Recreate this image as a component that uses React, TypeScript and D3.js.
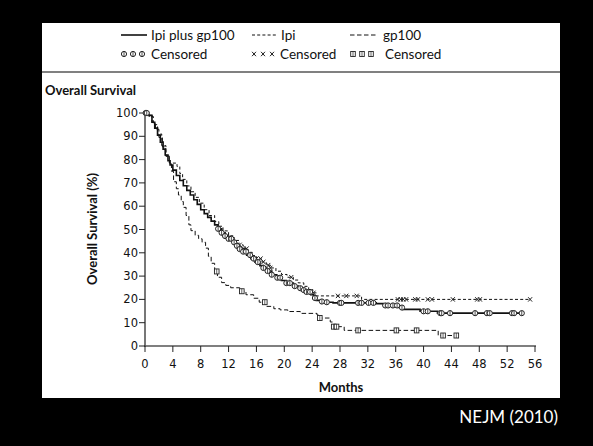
import React from 'react'
import * as d3 from 'd3'

// Kaplan-Meier steps [month, % alive]
const ipiGp100 = [
  [0, 100], [0.5, 99], [1, 96], [1.4, 93.5], [1.8, 90.5], [2.2, 87.5], [2.6, 84.5], [2.9, 82],
  [3.3, 79.5], [3.6, 77.7], [4.0, 75.5], [4.5, 73.2], [5.0, 71], [5.5, 68.8], [6.0, 66.8],
  [6.5, 64.8], [7.0, 62.8], [7.5, 60.8], [8.0, 58.5], [8.5, 56.8], [9.0, 55.2], [9.5, 53.6],
  [10, 52], [10.5, 50.3], [11, 48.6], [11.5, 47.2], [12, 46], [12.5, 44.5], [13, 43],
  [13.5, 41.6], [14, 40.5], [14.6, 39], [15.2, 37.5], [15.8, 36], [16.5, 34.5], [17, 33.5],
  [17.5, 32.2], [18.2, 30.6], [18.9, 29.3], [19.6, 28.1], [20.3, 27], [21.3, 25.7], [22, 24.8],
  [22.6, 24], [23.2, 23.2], [23.8, 22], [24.2, 20.6], [24.6, 19.6], [25.2, 19.1], [26.1, 18.8],
  [27, 18.5], [33.2, 18.2], [34.2, 17.4], [36.5, 16.5], [37, 15.7], [39.5, 14.9], [42, 14.1],
  [54.1, 14.1]
]
const ipi = [
  [0, 100], [0.6, 98.5], [1.2, 95], [1.8, 91], [2.4, 86], [3.0, 81.5], [3.5, 78.5], [4.6, 77],
  [5.0, 74], [5.4, 71.5], [6, 68.7], [6.6, 66.2], [7.2, 63.8], [7.8, 61.3], [8.5, 58.5],
  [9.2, 56], [10, 53.4], [10.6, 51.4], [11.2, 49.4], [12, 47.3], [12.8, 45.3], [13.5, 43.4],
  [14.1, 41.8], [14.8, 40.2], [15.4, 38.8], [16, 37.5], [16.7, 36.1], [17.4, 34.7], [18, 33.5],
  [18.8, 32.1], [19.6, 30.7], [20.4, 29.5], [21.3, 28.3], [22, 27.1], [22.8, 25.6], [23.5, 24.2],
  [24.1, 22.8], [24.6, 21.5], [30.9, 21.5], [31.1, 20], [55.3, 20]
]
const gp100 = [
  [0, 100], [0.5, 99], [1, 96], [1.5, 93], [2, 89.5], [2.5, 85.5], [3, 81.5], [3.5, 78.5],
  [3.8, 75], [4.1, 70.5], [4.5, 67.5], [4.8, 64.8], [5.2, 62], [5.5, 59.5], [5.9, 56],
  [6.3, 52], [6.6, 49.5], [7.2, 47.5], [7.7, 46], [8.2, 44.5], [8.7, 42], [9.1, 38.5],
  [9.5, 35.5], [10.0, 32], [10.4, 29.5], [11, 27.2], [11.6, 26], [12.3, 25], [13.6, 23.5],
  [14.5, 22], [15.6, 20.5], [16.4, 18.8], [17.3, 17], [18.5, 16], [19.4, 15.5], [20.5, 14.8],
  [22.3, 14], [24.7, 13.3], [25.1, 12], [26.6, 10.3], [27, 8.3], [28.6, 6.7], [41.9, 6.7],
  [42.1, 4.5], [44.7, 4.5]
]

// censoring times (months)
const ipiGp100Cens = [
  0.1, 0.25, 10.5, 11, 11.5, 12, 12.4, 12.8, 13.2, 13.6, 14.1, 14.5, 15.1, 15.6, 16.2, 17,
  17.6, 18.2, 19, 19.4, 20.3, 20.8, 21.5, 22.3, 22.8, 23.2, 23.7, 24.4, 25.4, 26.1, 28, 28.2,
  30.6, 31.1, 32.1, 32.8, 34.5, 34.9, 35.6, 36.2, 36.9, 40, 40.6, 42.4, 42.6, 43.8, 47.4,
  49.1, 49.5, 52.7, 53, 54.1
]
const ipiCens = [
  13.6, 14.1, 14.6, 16, 16.6, 17, 17.7, 18, 21, 24.2, 27.7, 28.9, 30.4, 36.3, 36.7, 37.1,
  37.5, 38.8, 39.2, 40.6, 41.2, 44.2, 47.7, 48.1, 55.3
]
const gp100Cens = [10.3, 13.9, 17.2, 25.1, 27.1, 27.5, 30.6, 36.1, 39, 42.8, 44.7]

const xTicks = d3.range(0, 57, 4)
const yTicks = d3.range(0, 101, 10)

const font = 'Lato, "Open Sans", sans-serif'
const tickFont = '"DejaVu Sans", sans-serif'

const x = d3.scaleLinear().domain([0, 56]).range([145, 535])
const y = d3.scaleLinear().domain([0, 100]).range([346, 113])

const line = d3
  .line<number[]>()
  .x(d => x(d[0]))
  .y(d => y(d[1]))
  .curve(d3.curveStepAfter)

const bis = d3.bisector((d: number[]) => d[0]).right
const survAt = (curve: number[][], m: number) => curve[Math.max(0, bis(curve, m) - 1)][1]

const Circ = ({ cx, cy }: { cx: number; cy: number }) => (
  <g>
    <circle cx={cx} cy={cy} r={2.6} fill='white' stroke='#222' strokeWidth={1} />
    <line x1={cx} x2={cx} y1={cy - 2.4} y2={cy + 2.4} stroke='#222' strokeWidth={0.8} />
  </g>
)
const Cross = ({ cx, cy }: { cx: number; cy: number }) => (
  <path
    d={`M${cx - 2},${cy - 2.2}L${cx + 2},${cy + 2.2}M${cx + 2},${cy - 2.2}L${cx - 2},${cy + 2.2}`}
    stroke='#222'
    strokeWidth={1}
  />
)
const Sq = ({ cx, cy }: { cx: number; cy: number }) => (
  <g>
    <rect x={cx - 2.3} y={cy - 2.5} width={4.6} height={5} fill='white' stroke='#222' strokeWidth={0.9} />
    <line x1={cx} x2={cx} y1={cy - 2.5} y2={cy + 2.5} stroke='#222' strokeWidth={0.7} />
  </g>
)

const App = () => {
  return (
    <svg
      width={593}
      height={446}
      style={{ position: 'absolute', left: 0, top: 0, background: 'black' }}
    >
      <rect x={0} y={0} width={593} height={446} fill='black' />
      <rect x={42} y={23} width={518} height={375} fill='white' />

      {/* legend */}
      <g fontFamily={font} fontSize={13.5} fill='#111'>
        <line x1={121} x2={147} y1={35} y2={35} stroke='#111' strokeWidth={1.6} />
        <text x={151} y={40}>Ipi plus gp100</text>
        <line x1={252} x2={277} y1={35} y2={35} stroke='#111' strokeWidth={1} strokeDasharray='3,2.2' />
        <text x={281} y={40}>Ipi</text>
        <line x1={350} x2={378} y1={35} y2={35} stroke='#111' strokeWidth={1} strokeDasharray='4.5,2.5' />
        <text x={383} y={40}>gp100</text>
        {[124, 133, 142].map(c => <Circ key={c} cx={c} cy={54} />)}
        <text x={151} y={59}>Censored</text>
        {[254, 263, 272].map(c => <Cross key={c} cx={c} cy={54} />)}
        <text x={280} y={59}>Censored</text>
        {[353, 362, 371].map(c => <Sq key={c} cx={c} cy={54} />)}
        <text x={385} y={59}>Censored</text>
      </g>
      <line x1={42} x2={560} y1={72} y2={72} stroke='#808080' strokeWidth={2} />

      <text x={45} y={95} fontFamily={font} fontWeight='bold' fontSize={13} fill='#111'>
        Overall Survival
      </text>

      {/* axes */}
      <line x1={145} x2={145} y1={111} y2={347} stroke='#555' strokeWidth={1.6} />
      <line x1={144} x2={536} y1={346} y2={346} stroke='#555' strokeWidth={1.6} />
      {yTicks.map(t => (
        <g key={t}>
          <line x1={139} x2={145} y1={y(t)} y2={y(t)} stroke='#222' strokeWidth={1} />
          <text x={138} y={y(t) + 4} textAnchor='end' fontFamily={tickFont} fontSize={11.5} fill='#111'>
            {t}
          </text>
        </g>
      ))}
      {xTicks.map(t => (
        <g key={t}>
          <line x1={x(t)} x2={x(t)} y1={346} y2={352} stroke='#222' strokeWidth={1} />
          <text x={x(t)} y={368} textAnchor='middle' fontFamily={tickFont} fontSize={11.5} fill='#111'>
            {t}
          </text>
        </g>
      ))}
      <text x={341} y={392} textAnchor='middle' fontFamily={font} fontWeight='bold' fontSize={13} fill='#111'>
        Months
      </text>
      <text
        transform='translate(97,229) rotate(-90)'
        textAnchor='middle'
        fontFamily={font}
        fontWeight='bold'
        fontSize={13}
        fill='#111'
      >
        Overall Survival (%)
      </text>

      {/* curves */}
      <path d={line(gp100 as any) ?? ''} fill='none' stroke='#111' strokeWidth={1} strokeDasharray='4.5,2.5' />
      <path d={line(ipi as any) ?? ''} fill='none' stroke='#111' strokeWidth={1} strokeDasharray='3,2.2' />
      <path d={line(ipiGp100 as any) ?? ''} fill='none' stroke='#111' strokeWidth={1.6} />

      {gp100Cens.map((m, i) => <Sq key={'g' + i} cx={x(m)} cy={y(survAt(gp100, m))} />)}
      {ipiCens.map((m, i) => <Cross key={'i' + i} cx={x(m)} cy={y(survAt(ipi, m))} />)}
      {ipiGp100Cens.map((m, i) => <Circ key={'c' + i} cx={x(m)} cy={y(survAt(ipiGp100, m))} />)}

      <text x={558} y={423} textAnchor='end' fontFamily={font} fontSize={17} fill='white'>
        NEJM (2010)
      </text>
    </svg>
  )
}

export default App
